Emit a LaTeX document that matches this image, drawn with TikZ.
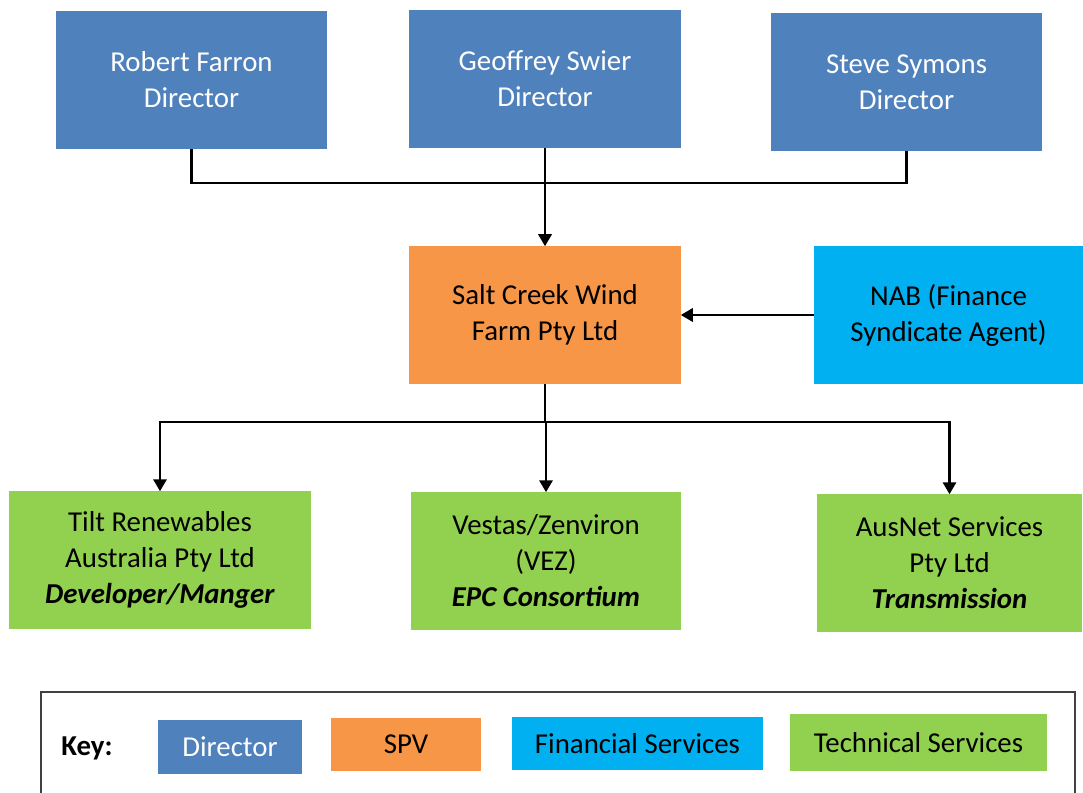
\documentclass[tikz,border=0pt]{standalone}
\usepackage{fontspec}
\setmainfont{Carlito}
\usetikzlibrary{arrows.meta}

\definecolor{dirblue}{HTML}{4F81BD}
\definecolor{spvorange}{HTML}{F79646}
\definecolor{finblue}{HTML}{00B0F0}
\definecolor{techgreen}{HTML}{92D050}
\definecolor{keygray}{HTML}{404040}

\tikzset{
	box/.style={rectangle, inner sep=0pt, align=center, text=black,
		font=\fontsize{20.5}{25.6}\selectfont},
	director/.style={box, fill=dirblue, text=white},
	spv/.style={box, fill=spvorange},
	finance/.style={box, fill=finblue},
	tech/.style={box, fill=techgreen},
	link/.style={line width=1.6pt},
	arrow/.style={link, -{Triangle[length=8.5pt,width=9.5pt]}},
}

\begin{document}
\begin{tikzpicture}[x=0.025cm, y=-0.025cm]
		\useasboundingbox (0,0) rectangle (1083,793);

		% Directors
		\node[director, minimum width=6.775cm, minimum height=3.45cm] (farron) at (191.5,80) {Robert Farron\\Director};
		\node[director, minimum width=6.775cm, minimum height=3.45cm] (swier) at (545,79) {Geoffrey Swier\\Director};
		\node[director, minimum width=6.775cm, minimum height=3.45cm] (symons) at (906.5,82) {Steve Symons\\Director};

		% SPV and finance
		\node[spv, minimum width=6.775cm, minimum height=3.425cm] (saltcreek) at (545,315) {Salt Creek Wind\\Farm Pty Ltd};
		\node[finance, minimum width=6.725cm, minimum height=3.45cm] (nab) at (948.5,315) {NAB (Finance\\Syndicate Agent)};

		% Technical services
		\node[tech, minimum width=7.55cm, minimum height=3.425cm] (tilt) at (160,560) {Tilt Renewables\\Australia Pty Ltd\\\textbf{\textit{Developer/Manger}}};
		\node[tech, minimum width=6.75cm, minimum height=3.425cm] (vestas) at (546,561) {Vestas/Zenviron\\(VEZ)\\\textbf{\textit{EPC Consortium}}};
		\node[tech, minimum width=6.625cm, minimum height=3.425cm] (ausnet) at (949.5,563) {AusNet Services\\Pty Ltd\\\textbf{\textit{Transmission}}};

		% Connectors
		\coordinate (dirjoin) at (545,183);
		\coordinate (split) at (546,422);
		\draw[link] (farron.south) |- (dirjoin);
		\draw[link] (symons.south) |- (dirjoin);
		\draw[arrow] (swier.south) -- (saltcreek.north);
		\draw[arrow] (nab.west) -- (saltcreek.east);
		\draw[link] (saltcreek.south) -- (saltcreek.south |- split);
		\draw[arrow] (split) -| (tilt.north);
		\draw[arrow] (split) -| (ausnet.north);
		\draw[arrow] (split) -- (vestas.north);

		% Key
		\draw[keygray, line width=1.2pt] (41,793) |- (1075,692) -- (1075,793);
		\node[box, font=\fontsize{20.5}{25.6}\selectfont\bfseries] (keylabel) at (87,748) {Key:};
		\node[director, minimum width=3.6cm, minimum height=1.35cm] (keydir) at (230,747) {Director};
		\node[spv, minimum width=3.75cm, minimum height=1.325cm] (keyspv) at (406,744.5) {SPV};
		\node[finance, minimum width=6.275cm, minimum height=1.325cm] (keyfin) at (637.5,743.5) {Financial Services};
		\node[tech, minimum width=6.425cm, minimum height=1.425cm] (keytech) at (918.5,742.5) {Technical Services};
	\end{tikzpicture}
\end{document}
